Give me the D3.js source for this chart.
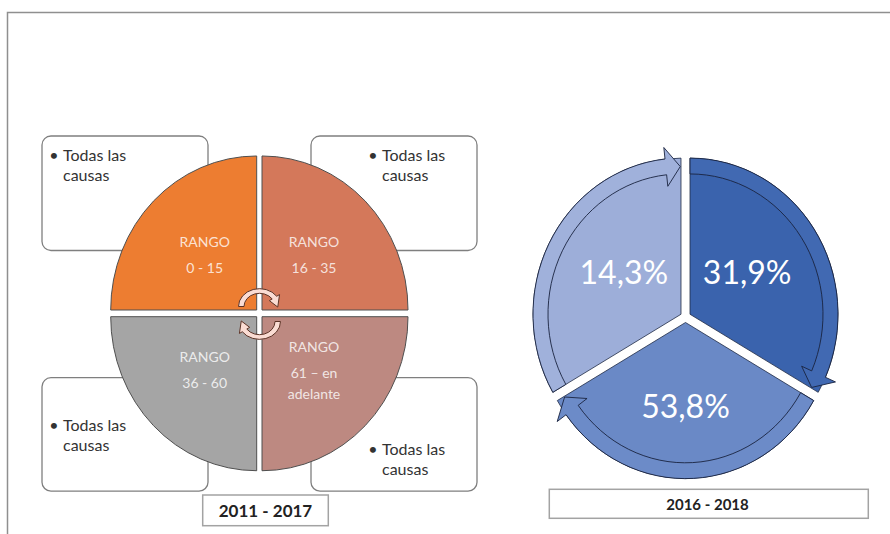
<!DOCTYPE html>
<html><head><meta charset="utf-8">
<script src="https://cdn.jsdelivr.net/npm/d3@7"></script>
<style>body{margin:0;background:#fff}svg{display:block}text{font-family:Lato,"Open Sans",sans-serif}</style>
</head><body><svg id="c" width="890" height="534"></svg>
<script>
// ---------- data ----------
const ranges = ["0 - 15", "16 - 35", "36 - 60", "61 – en adelante"];
const rangeTitle = "RANGO";
const causeText = ["Todas las", "causas"];
const leftPeriod = "2011 - 2017";
const shareValues = [31.9, 53.8, 14.3];
const rightPeriod = "2016 - 2018";
// ---------- styles ----------
const rangeColors = ["#ED7D31", "#D4785A", "#A5A5A5", "#BD8981"];
const shareColors = ["#3A63AD", "#6A89C6", "#9DAED9"];
const shareBandColors = ["#4169B2", "#6C8BC8", "#A0B1DB"];

const svg = d3.select("#c");
const KY = 1.055; // vertical stretch of the original picture
const deg = Math.PI / 180;
const pt = (r, t) => [r * Math.sin(t), -r * Math.cos(t)];
const es = d3.formatLocale({decimal: ",", thousands: ".", grouping: [3], currency: ["", "€"]});
const pct = v => es.format(".1f")(v) + "%";

// frame
svg.append("path").attr("d", "M7.5,534 V12.5 H890").attr("fill", "none")
  .attr("stroke", "#8f8f8f").attr("stroke-width", 1.5);

// ---------- left diagram ----------
const L = {cx: 259.35, cy: 313.35, r: 146, gapX: 2.65, gapY: 3.35};
const boxes = [
  {x: 42, y: 136, w: 166, h: 114.5, tx: 54, ty: 160.5},
  {x: 311, y: 136, w: 166, h: 114.5, tx: 373, ty: 160.5},
  {x: 42, y: 377.7, w: 166, h: 113.5, tx: 54, ty: 430.5},
  {x: 311, y: 377.7, w: 166, h: 113.5, tx: 373, ty: 454.5}
];
boxes.forEach(b => {
  svg.append("rect").attr("x", b.x).attr("y", b.y).attr("width", b.w).attr("height", b.h)
    .attr("rx", 9).attr("fill", "#fff").attr("stroke", "#7f7f7f").attr("stroke-width", 1.3);
  svg.append("text").attr("x", b.tx).attr("y", b.ty).attr("font-size", 16).attr("fill", "#333")
    .attr("text-anchor", "middle").text("•");
  causeText.forEach((t, i) => svg.append("text").attr("x", b.tx + 9).attr("y", b.ty + i * 20.8)
    .attr("font-size", 16).attr("fill", "#333").text(t));
});

function wrap(label, maxW, size) {
  const tmp = svg.append("text").attr("font-size", size);
  const words = label.split(" ");
  const lines = [];
  let cur = "";
  words.forEach(w => {
    const test = cur ? cur + " " + w : w;
    tmp.text(test);
    if (tmp.node().getComputedTextLength() > maxW && cur) { lines.push(cur); cur = w; }
    else cur = test;
  });
  if (cur) lines.push(cur);
  tmp.remove();
  return lines;
}

const quadOrder = [0, 1, 3, 2]; // clockwise from top-left
const quadPie = d3.pie().sort(null).value(() => 1).startAngle(-Math.PI / 2).endAngle(1.5 * Math.PI);
const arcQ = d3.arc().innerRadius(0).outerRadius(L.r);
quadPie(quadOrder).forEach(q => {
  const m = (q.startAngle + q.endAngle) / 2;
  const sx = Math.sin(m) > 0 ? 1 : -1, sy = Math.cos(m) > 0 ? -1 : 1;
  const ox = L.cx + sx * L.gapX, oy = L.cy + sy * L.gapY;
  svg.append("path").attr("transform", `translate(${ox},${oy}) scale(1,${KY})`)
    .attr("d", arcQ(q)).attr("fill", rangeColors[q.data])
    .attr("stroke", "#4f4f4f").attr("stroke-width", 1).attr("vector-effect", "non-scaling-stroke");
  const lines = [rangeTitle, ...wrap(ranges[q.data], 62, 14)];
  const gaps = lines.map((l, i) => i === 0 ? 0 : (i === 1 ? 26.5 : 20.5));
  const sum = d3.sum(gaps);
  const c = sy < 0 ? -55 : 53.5;
  const lx = ox + sx * 52;
  let b = oy + c - (sum - 10) / 2;
  lines.forEach((l, i) => {
    b += gaps[i];
    svg.append("text").attr("x", lx).attr("y", b).attr("font-size", 14).attr("text-anchor", "middle")
      .attr("fill", "#fff").attr("fill-opacity", 0.8).text(l);
  });
});

// small circular arrows at centre
function smallArrow(cx, cy, rot) {
  const ro = 21, ri = 15.5, hb = 55 * deg, ht = 92 * deg, a0 = -90 * deg;
  const p = d3.path();
  p.moveTo(...pt(ro, a0));
  p.arc(0, 0, ro, a0 - Math.PI / 2, hb - Math.PI / 2, false);
  p.lineTo(...pt(ro + 3.5, hb));
  p.lineTo(...pt((ro + ri) / 2, ht));
  p.lineTo(...pt(ri - 3.5, hb));
  p.lineTo(...pt(ri, hb));
  p.arc(0, 0, ri, hb - Math.PI / 2, a0 - Math.PI / 2, true);
  p.closePath();
  svg.append("path").attr("transform", `translate(${cx},${cy}) scale(1,0.85) rotate(${rot})`)
    .attr("d", p.toString()).attr("fill", "#FADCD3").attr("stroke", "#5c3326")
    .attr("stroke-width", 1).attr("vector-effect", "non-scaling-stroke");
}
smallArrow(259.5, 306.5, 0);
smallArrow(259.5, 321.5, 180);

// period box left
svg.append("rect").attr("x", 202.7).attr("y", 495).attr("width", 125.6).attr("height", 30.7)
  .attr("fill", "#fff").attr("stroke", "#a3a3a3").attr("stroke-width", 1.5);
svg.append("text").attr("x", 265.5).attr("y", 516.5).attr("font-size", 17).attr("font-weight", "bold")
  .attr("text-anchor", "middle").attr("fill", "#222").text(leftPeriod);

// ---------- right diagram ----------
const R = {cx: 685.5, cy: 317, r: 148, explode: 5.2, bandIn: 133, headIn: 122, headOut: 159,
           tipR: 140, baseOff: 113.8, tipOff: 119.7};
const slices = d3.pie().sort(null).value(() => 1)(shareValues);
const arcW = d3.arc().innerRadius(0).outerRadius(R.r);
function arrowPath(a0) {
  const ab = a0 + R.baseOff * deg, at = a0 + R.tipOff * deg;
  const p = d3.path();
  p.moveTo(...pt(R.r, a0));
  p.arc(0, 0, R.r, a0 - Math.PI / 2, ab - Math.PI / 2, false);
  p.lineTo(...pt(R.headOut, ab));
  p.lineTo(...pt(R.tipR, at));
  p.lineTo(...pt(R.headIn, ab));
  p.lineTo(...pt(R.bandIn, ab));
  p.arc(0, 0, R.bandIn, ab - Math.PI / 2, a0 - Math.PI / 2, true);
  p.closePath();
  return p.toString();
}
slices.forEach((s, i) => {
  const m = (s.startAngle + s.endAngle) / 2;
  const ox = R.cx + R.explode * Math.sin(m), oy = R.cy - R.explode * Math.cos(m) * KY;
  const g = svg.append("g").attr("transform", `translate(${ox},${oy}) scale(1,${KY})`);
  g.append("path").attr("d", arcW(s)).attr("fill", shareColors[i])
    .attr("stroke", "#1f2b45").attr("stroke-width", 0.8).attr("vector-effect", "non-scaling-stroke");
  g.append("path").attr("d", arrowPath(s.startAngle)).attr("fill", shareBandColors[i])
    .attr("stroke", "#1a2440").attr("stroke-width", 0.9).attr("vector-effect", "non-scaling-stroke");
  const lx = ox + 66 * Math.sin(m), ly = oy - 80 * Math.cos(m) * KY;
  svg.append("text").attr("x", lx).attr("y", ly + 11.5).attr("font-size", 32)
    .attr("text-anchor", "middle").attr("fill", "#fff").text(pct(s.data));
});

// period box right
svg.append("rect").attr("x", 549.3).attr("y", 489.3).attr("width", 319).attr("height", 29)
  .attr("fill", "#fff").attr("stroke", "#a3a3a3").attr("stroke-width", 1.5);
svg.append("text").attr("x", 707.5).attr("y", 509.5).attr("font-size", 15).attr("font-weight", "bold")
  .attr("text-anchor", "middle").attr("fill", "#222").text(rightPeriod);
</script>
</body></html>
